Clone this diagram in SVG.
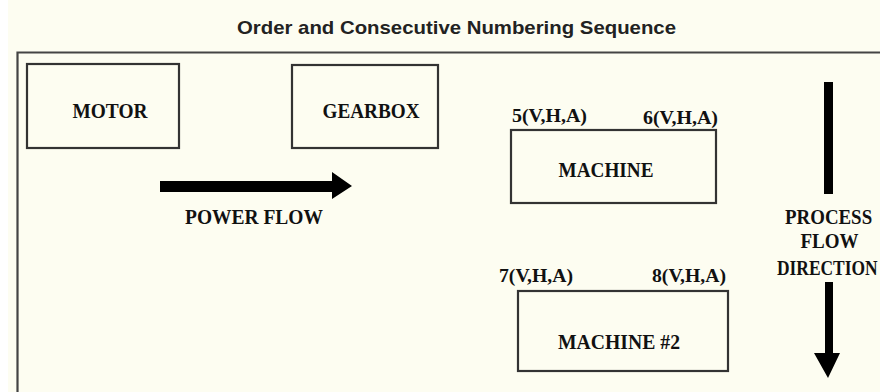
<svg xmlns="http://www.w3.org/2000/svg" width="880" height="392" viewBox="0 0 880 392">
  <style>
    .box { fill: none; stroke: #333; stroke-width: 2.2; }
    .lbl { font-family: "Liberation Serif", "Times New Roman", serif; font-weight: bold; font-size: 21px; fill: #111; }
    .pt { font-family: "Liberation Serif", "Times New Roman", serif; font-weight: bold; font-size: 18px; fill: #111; }
    .title { font-family: "Liberation Sans", Arial, sans-serif; font-weight: bold; font-size: 18.5px; fill: #222; }
    .arrow { fill: #000; stroke: none; }
  </style>
  <rect x="0" y="0" width="880" height="392" fill="#fdfdf1"/>
  <rect x="0" y="0" width="8" height="392" fill="#ffffff"/>
  <text class="title" x="237" y="34" textLength="439" lengthAdjust="spacingAndGlyphs">Order and Consecutive Numbering Sequence</text>
  <path d="M17.5,395 V52.5 H882" fill="none" stroke="#444" stroke-width="2.2"/>

  <g id="motor">
    <rect class="box" x="27" y="64" width="152" height="84"/>
    <text class="lbl" x="72.5" y="118" textLength="75" lengthAdjust="spacingAndGlyphs">MOTOR</text>
  </g>
  <g id="gearbox">
    <rect class="box" x="292" y="65" width="146" height="83"/>
    <text class="lbl" x="322.5" y="118" textLength="97" lengthAdjust="spacingAndGlyphs">GEARBOX</text>
  </g>
  <g id="machine">
    <rect class="box" x="511" y="130" width="205" height="73"/>
    <text class="lbl" x="558.5" y="177" textLength="95" lengthAdjust="spacingAndGlyphs">MACHINE</text>
    <text class="pt" x="512" y="122" textLength="75" lengthAdjust="spacingAndGlyphs">5(V,H,A)</text>
    <text class="pt" x="643" y="124" textLength="75" lengthAdjust="spacingAndGlyphs">6(V,H,A)</text>
  </g>
  <g id="machine2">
    <rect class="box" x="518" y="291" width="210" height="80"/>
    <text class="lbl" x="558" y="349" textLength="122" lengthAdjust="spacingAndGlyphs">MACHINE #2</text>
    <text class="pt" x="499" y="282" textLength="74" lengthAdjust="spacingAndGlyphs">7(V,H,A)</text>
    <text class="pt" x="652" y="282" textLength="74" lengthAdjust="spacingAndGlyphs">8(V,H,A)</text>
  </g>

  <g id="connectors">
    <g id="power-flow">
      <polygon class="arrow" points="160,181 332,181 332,172 352,186 332,199 332,192 160,192"/>
      <text class="lbl" x="185" y="224" textLength="138" lengthAdjust="spacingAndGlyphs">POWER FLOW</text>
    </g>
    <g id="process-flow">
      <rect class="arrow" x="824" y="82" width="9" height="112"/>
      <polygon class="arrow" points="825,282 833,282 833,353 840,353 828,378 814,353 825,353"/>
      <text class="lbl" transform="translate(785,224) scale(0.9,1)">PROCESS</text>
      <text class="lbl" x="800.5" y="248" textLength="58" lengthAdjust="spacingAndGlyphs">FLOW</text>
      <text class="lbl" transform="translate(777,275) scale(0.83,1)">DIRECTION</text>
    </g>
  </g>
</svg>
